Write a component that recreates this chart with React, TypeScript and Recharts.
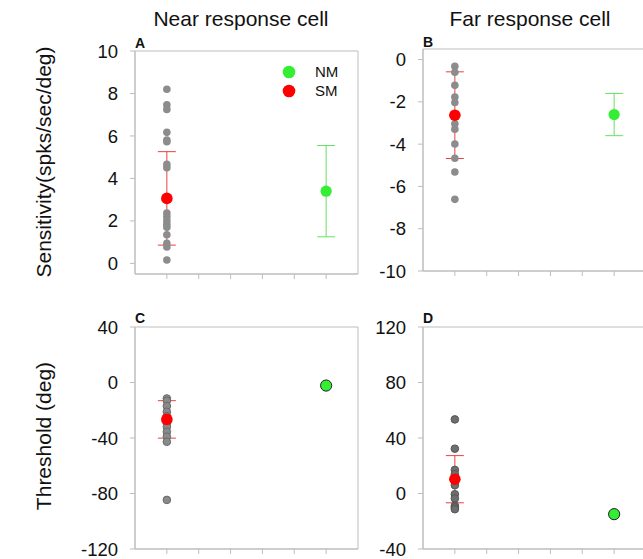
import {
	ErrorBar,
	ReferenceArea,
	Scatter,
	ScatterChart,
	XAxis,
	YAxis,
} from "recharts";

// group order: SM, NM
const groups = ["SM", "NM"];
const groupX = [1, 6];
const xTicks = [1, 2, 3, 4, 5, 6];

// sensitivity (spks/sec/deg)
const sensNearCells = [8.2, 7.47, 7.25, 6.17, 5.81, 5.73, 4.66, 4.5, 2.37, 2.2, 2.01, 1.84, 1.7, 1.35, 0.94, 0.77, 0.16];
const sensNearMean = [3.06, 3.4];
const sensNearErr = [2.2, 2.15];
const sensFarCells = [-0.32, -0.6, -1.22, -1.77, -2.03, -3.04, -3.29, -3.99, -4.67, -5.32, -6.61];
const sensFarMean = [-2.63, -2.6];
const sensFarErr = [2.05, 1.0];

// threshold (deg)
const thrNearCells = [-11.5, -13.2, -17, -21.1, -24.2, -29.5, -31.9, -35.5, -39, -42.7, -84.6];
const thrNearMean = [-26.6, -2.2];
const thrNearErr = [13.5, 0];
const thrFarCells = [53.4, 32.3, 17, 13.9, 6, -0.5, -3.6, -8.9, -10, -11.3];
const thrFarMean = [10.3, -14.9];
const thrFarErr = [17, 0];

const sensNearTicks = [0, 2, 4, 6, 8, 10];
const sensFarTicks = [-10, -8, -6, -4, -2, 0];
const thrNearTicks = [-120, -80, -40, 0, 40];
const thrFarTicks = [-40, 0, 40, 80, 120];

const FONT = "'Liberation Sans', Arial, sans-serif";
const AXIS = "#bdbdbd";
const RED = "#ff0000";
const GREEN = "#33ee33";

const Y_W = 75;
const M_TOP = 15;
const M_RIGHT = 6;
const X_H = 14;

interface PanelProps {
	left: number;
	top: number;
	w: number;
	h: number;
	domain: [number, number];
	yTicks: number[];
	cells: number[];
	mean: number[];
	err: number[];
	cellFill: string;
	cellStroke: string;
	nmStroke: string;
	nmErrBar: boolean;
}

function dot(r: number, fill: string, stroke: string) {
	return (props: any) => (
		<circle
			cx={props.cx}
			cy={props.cy}
			r={r}
			fill={fill}
			stroke={stroke}
			strokeWidth={stroke === "none" ? 0 : 1}
		/>
	);
}

function Panel(p: PanelProps) {
	const cellData = p.cells.map((y) => ({ x: groupX[0], y }));
	const smData = [{ x: groupX[0], y: p.mean[0], err: p.err[0] }];
	const nmData = [{ x: groupX[1], y: p.mean[1], err: p.err[1] }];
	return (
		<div
			style={{
				position: "absolute",
				left: p.left - Y_W,
				top: p.top - M_TOP,
			}}
		>
			<ScatterChart
				width={Y_W + p.w + M_RIGHT}
				height={M_TOP + p.h + X_H}
				margin={{ top: M_TOP, right: M_RIGHT, bottom: 0, left: 0 }}
			>
				<XAxis
					type="number"
					dataKey="x"
					domain={[0, 7]}
					ticks={xTicks}
					interval={0}
					tickFormatter={() => ""}
					tickSize={5}
					height={X_H}
					axisLine={{ stroke: AXIS }}
					tickLine={{ stroke: AXIS }}
				/>
				<YAxis
					type="number"
					dataKey="y"
					domain={p.domain}
					ticks={p.yTicks}
					interval={0}
					width={Y_W}
					tickSize={5}
					tickMargin={12}
					axisLine={{ stroke: AXIS }}
					tickLine={{ stroke: AXIS }}
					tick={{ fontSize: 18.5, fill: "#111", fontFamily: FONT }}
				/>
				<ReferenceArea
					x1={0}
					x2={7}
					y1={p.domain[0]}
					y2={p.domain[1]}
					fill="none"
					stroke={AXIS}
					strokeOpacity={1}
					ifOverflow="visible"
				/>
				<Scatter
					data={cellData}
					isAnimationActive={false}
					shape={dot(3.8, p.cellFill, p.cellStroke)}
				/>
				<Scatter
					data={smData}
					isAnimationActive={false}
					shape={dot(5.8, RED, "none")}
				>
					<ErrorBar
						dataKey="err"
						direction="y"
						width={9}
						stroke="#e84040"
						strokeWidth={1}
						isAnimationActive={false}
					/>
				</Scatter>
				<Scatter
					data={nmData}
					isAnimationActive={false}
					shape={dot(5.6, GREEN, p.nmStroke)}
				>
					{p.nmErrBar && (
						<ErrorBar
							dataKey="err"
							direction="y"
							width={9}
							stroke="#66e066"
							strokeWidth={1}
							isAnimationActive={false}
						/>
					)}
				</Scatter>
			</ScatterChart>
		</div>
	);
}

export default function App() {
	return (
		<div
			style={{
				position: "absolute",
				left: 0,
				top: 0,
				width: 643,
				height: 559,
				overflow: "hidden",
				background: "#fff",
				fontFamily: FONT,
			}}
		>
			<Panel
				left={135}
				top={51}
				w={223}
				h={223}
				domain={[-0.5, 10]}
				yTicks={sensNearTicks}
				cells={sensNearCells}
				mean={sensNearMean}
				err={sensNearErr}
				cellFill="#8c8c8c"
				cellStroke="none"
				nmStroke="none"
				nmErrBar
			/>
			<Panel
				left={423}
				top={49}
				w={223}
				h={222}
				domain={[-10, 0.5]}
				yTicks={sensFarTicks}
				cells={sensFarCells}
				mean={sensFarMean}
				err={sensFarErr}
				cellFill="#8c8c8c"
				cellStroke="none"
				nmStroke="none"
				nmErrBar
			/>
			<Panel
				left={135}
				top={327}
				w={223}
				h={222}
				domain={[-120, 40]}
				yTicks={thrNearTicks}
				cells={thrNearCells}
				mean={thrNearMean}
				err={thrNearErr}
				cellFill="#8a8a8a"
				cellStroke="#6a6a6a"
				nmStroke="#222"
				nmErrBar={false}
			/>
			<Panel
				left={423}
				top={327}
				w={223}
				h={222}
				domain={[-40, 120]}
				yTicks={thrFarTicks}
				cells={thrFarCells}
				mean={thrFarMean}
				err={thrFarErr}
				cellFill="#6e6e6e"
				cellStroke="#555"
				nmStroke="#222"
				nmErrBar={false}
			/>
			<svg
				width={643}
				height={559}
				style={{ position: "absolute", left: 0, top: 0, pointerEvents: "none" }}
				fontFamily={FONT}
			>
				<text x={241} y={26} fontSize={21} textAnchor="middle" fill="#111">
					Near response cell
				</text>
				<text x={530} y={26} fontSize={21} textAnchor="middle" fill="#111">
					Far response cell
				</text>
				<text
					x={51}
					y={162}
					fontSize={21}
					textAnchor="middle"
					fill="#111"
					transform="rotate(-90 51 162)"
				>
					Sensitivity(spks/sec/deg)
				</text>
				<text
					x={51}
					y={436}
					fontSize={21}
					textAnchor="middle"
					fill="#111"
					transform="rotate(-90 51 436)"
				>
					Threshold (deg)
				</text>
				<text x={135} y={48} fontSize={14} fontWeight="bold" fill="#111">A</text>
				<text x={423} y={47} fontSize={14} fontWeight="bold" fill="#111">B</text>
				<text x={135} y={323} fontSize={14} fontWeight="bold" fill="#111">C</text>
				<text x={423} y={323} fontSize={14} fontWeight="bold" fill="#111">D</text>
				<circle cx={289} cy={72} r={6.3} fill={GREEN} />
				<text x={315} y={77} fontSize={15} fill="#111">{groups[1]}</text>
				<circle cx={289} cy={91} r={6.3} fill={RED} />
				<text x={315} y={96} fontSize={15} fill="#111">{groups[0]}</text>
			</svg>
		</div>
	);
}
